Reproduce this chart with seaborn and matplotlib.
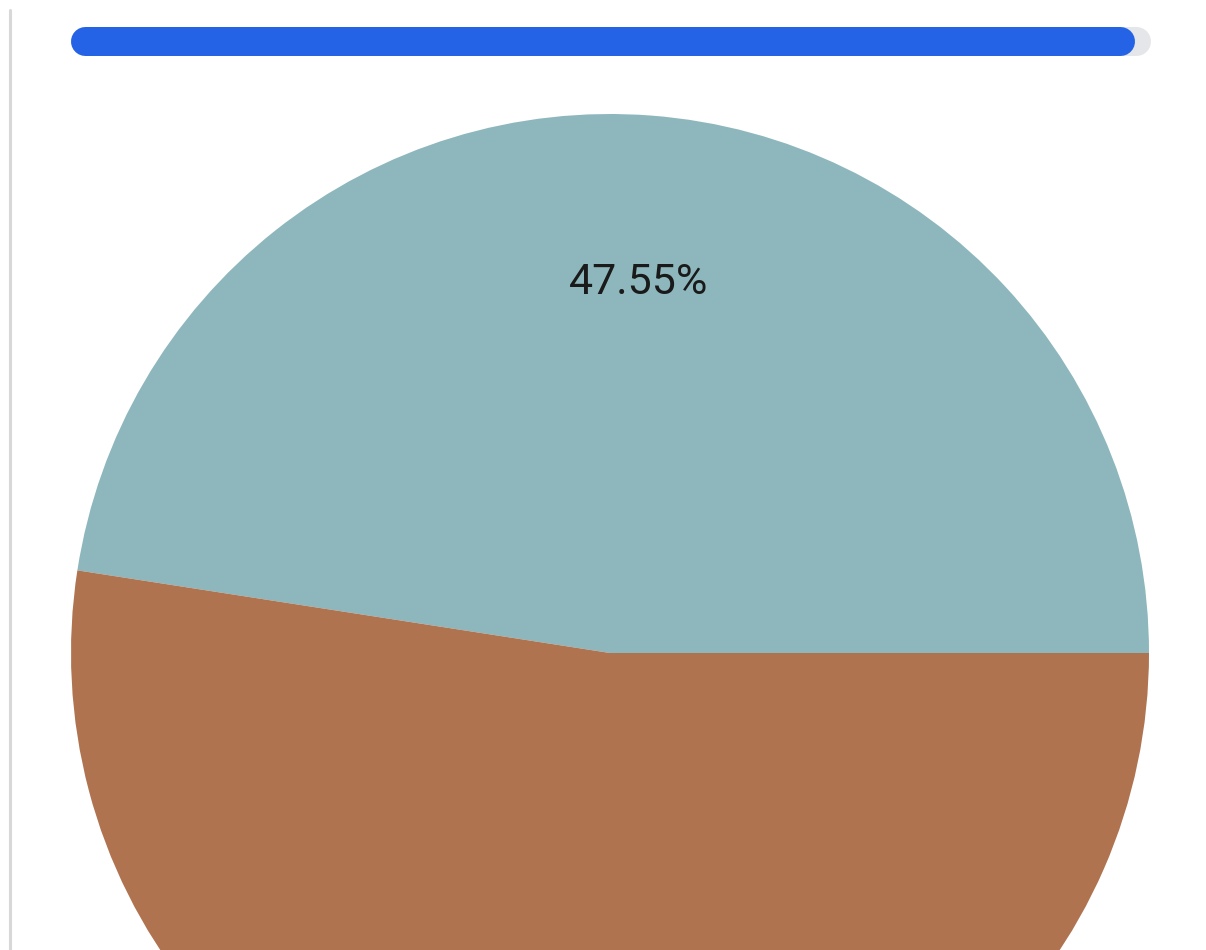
import matplotlib
matplotlib.use("Agg")
import matplotlib.pyplot as plt
import seaborn as sns

# ─────────────────────────────────────────────
# Données
# ─────────────────────────────────────────────
slice_labels = ["A", "B"]
slice_values = [47.55, 52.45]
slice_colors = ["#8db7bc", "#b07350"]

progress_value = 0.986   # part remplie de la barre du haut

W, H = 1206, 950

sns.set_theme(style="white")
plt.rcParams["font.family"] = ["Roboto", "DejaVu Sans"]

fig = plt.figure(figsize=(W / 100, H / 100), dpi=100)
ax = fig.add_axes([0, 0, 1, 1])

# camembert (coordonnées pixels, y vers le haut)
wedges, texts, autotexts = ax.pie(
    slice_values,
    colors=slice_colors,
    startangle=0,
    counterclock=True,
    center=(610, H - 653),
    radius=539,
    autopct="%.2f%%",
    pctdistance=0.69,
    textprops={"fontsize": 31, "color": "#1a1a1a"},
    wedgeprops={"linewidth": 0},
)
# l'étiquette de la 2e part tombe hors du cadre visible
autotexts[1].set_visible(False)

# barre de progression en haut
track_x0, track_x1 = 70, 1150
bar_y = H - 41
cap = 14.5
lw_pt = 29 * 72 / 100
ax.plot([track_x0 + cap, track_x1 - cap], [bar_y, bar_y],
        color="#e4e6ea", lw=lw_pt, solid_capstyle="round", zorder=3)
fill_end = track_x0 + (track_x1 - track_x0) * progress_value
ax.plot([track_x0 + cap, fill_end - cap], [bar_y, bar_y],
        color="#2563e6", lw=lw_pt, solid_capstyle="round", zorder=4)

# filet vertical à gauche
ax.plot([10, 10], [0, H - 10], color="#d8d8d8", lw=2.2, zorder=2)

ax.set_xlim(0, W)
ax.set_ylim(0, H)
ax.set_aspect("equal")
ax.axis("off")

fig.savefig("out.png", dpi=100, facecolor="white")
